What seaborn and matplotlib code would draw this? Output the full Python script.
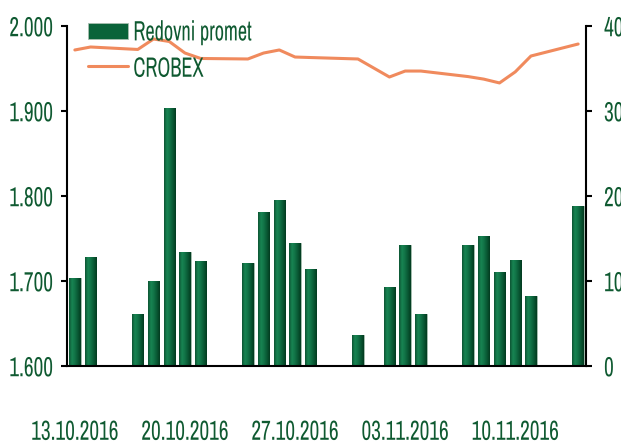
import numpy as np
import pandas as pd
import matplotlib
matplotlib.use("Agg")
import matplotlib.pyplot as plt
import seaborn as sns
from matplotlib.colors import LinearSegmentedColormap
from matplotlib.patches import Patch
from matplotlib.lines import Line2D
from matplotlib.patheffects import AbstractPathEffect
from matplotlib.transforms import Affine2D

# ---- data ----
dates = ["13.10.2016", "14.10.2016", "17.10.2016", "18.10.2016", "19.10.2016",
         "20.10.2016", "21.10.2016", "24.10.2016", "25.10.2016", "26.10.2016",
         "27.10.2016", "28.10.2016", "31.10.2016", "02.11.2016", "03.11.2016",
         "04.11.2016", "07.11.2016", "08.11.2016", "09.11.2016", "10.11.2016",
         "11.11.2016", "14.11.2016"]
redovni_promet = [10.3, 12.8, 6.1, 10.0, 30.4, 13.4, 12.4, 12.1, 18.1, 19.5,
                  14.5, 11.4, 3.6, 9.3, 14.2, 6.1, 14.2, 15.3, 11.1, 12.5,
                  8.2, 18.8]
crobex = [1971.8, 1975.3, 1972.4, 1984.7, 1981.8, 1968.2, 1961.8, 1961.2,
          1968.2, 1971.8, 1963.5, 1962.9, 1961.2, 1940.0, 1947.0, 1947.0,
          1940.5, 1937.5, 1933.0, 1946.0, 1964.7, 1978.8]
tick_dates = ["13.10.2016", "20.10.2016", "27.10.2016", "03.11.2016", "10.11.2016"]
left_ticks = [1600, 1700, 1800, 1900, 2000]
left_labels = ["1.600", "1.700", "1.800", "1.900", "2.000"]
right_ticks = [0, 10, 20, 30, 40]
right_labels = ["0", "10", "20", "30", "40"]

GREEN_TXT = "#0f5a31"
GREEN_BAR = "#0a6339"
ORANGE = "#f08a5d"

sns.set_theme(style="white")
plt.rcParams["font.family"] = ["Archivo Narrow", "Roboto Condensed", "DejaVu Sans"]
FS_TICK = 15.3
FS_LEG = 14.6


class VStretch(AbstractPathEffect):
    """Render text glyphs taller (narrow, tall look of the original font)."""
    def __init__(self, k=1.3, c=35.0):
        super().__init__()
        self.k, self.c = k, c

    def draw_path(self, renderer, gc, tpath, affine, rgbFace=None):
        t = Affine2D().translate(0, -self.c).scale(1, self.k).translate(0, self.c) + affine
        renderer.draw_path(gc, tpath, t, rgbFace)


start = pd.to_datetime(dates[0], format="%d.%m.%Y")
dt = pd.to_datetime(dates, format="%d.%m.%Y")
xpos = (dt - start).days.values + 0.5
df = pd.DataFrame({"x": xpos, "promet": redovni_promet, "crobex": crobex})
tick_x = (pd.to_datetime(tick_dates, format="%d.%m.%Y") - start).days.values
xmax = (dt[-1] - start).days + 1

fig = plt.figure(figsize=(6.21, 4.41), dpi=100)
ax = fig.add_axes([67/621, 1-366/441, (586-67)/621, (366-26)/441])
ax2 = ax.twinx()

# bars on right axis
sns.barplot(data=df, x="x", y="promet", native_scale=True, width=0.72,
            color=GREEN_BAR, saturation=1, errorbar=None, ax=ax2,
            edgecolor="#a9bfb0", linewidth=0.6)

cmap = LinearSegmentedColormap.from_list(
    "bar", ["#0d5433", "#188553", "#117246", "#095834", "#023a1f"])
grad = np.linspace(0, 1, 64).reshape(1, -1)
for p in list(ax2.patches):
    x0, y0 = p.get_x(), p.get_y()
    w, h = p.get_width(), p.get_height()
    im = ax2.imshow(grad, extent=(x0, x0 + w, y0, y0 + h), aspect="auto",
                    cmap=cmap, zorder=p.get_zorder() + 0.1, origin="lower")
    im.set_clip_path(p)

# line on left axis
sns.lineplot(data=df, x="x", y="crobex", sort=False, color=ORANGE,
             linewidth=2.2, ax=ax)

ax.set_zorder(ax2.get_zorder() + 1)
ax.patch.set_visible(False)

ax.set_xlim(0, xmax)
ax2.set_xlim(0, xmax)
ax.set_ylim(1600, 2000)
ax2.set_ylim(0, 40)

ax.set_yticks(left_ticks)
ax.set_yticklabels(left_labels)
ax2.set_yticks(right_ticks)
ax2.set_yticklabels(right_labels)

ax.set_xticks(tick_x)
ax.set_xticklabels([])
ax.set_xticks(tick_x + 0.5, minor=True)
ax.set_xticklabels(tick_dates, minor=True)
ax2.set_xticks([])

ax.set_xlabel("")
ax.set_ylabel("")
ax2.set_xlabel("")
ax2.set_ylabel("")

for s in ["top", "right"]:
    ax.spines[s].set_visible(False)
for s in ["top", "left", "bottom"]:
    ax2.spines[s].set_visible(False)
for s in ["left", "bottom"]:
    ax.spines[s].set_color("black")
    ax.spines[s].set_linewidth(1.5)
ax2.spines["right"].set_color("black")
ax2.spines["right"].set_linewidth(1.5)

ax.tick_params(axis="y", which="major", direction="out", length=4, width=1.5,
               color="black", pad=6, labelsize=FS_TICK, labelcolor=GREEN_TXT, left=True)
ax.tick_params(axis="x", which="major", direction="out", length=6.5, width=1.5,
               color="black", bottom=True)
ax.tick_params(axis="x", which="minor", length=0, pad=40, labelsize=FS_TICK,
               labelcolor=GREEN_TXT, bottom=True)
ax2.tick_params(axis="y", which="major", direction="out", length=4, width=1.5,
                color="black", pad=9, labelsize=FS_TICK, labelcolor=GREEN_TXT, right=True)

stretch = [VStretch(1.3)]
for lab in (ax.get_yticklabels() + ax2.get_yticklabels()
            + ax.get_xticklabels(minor=True)):
    lab.set_path_effects(stretch)

handles = [Patch(facecolor=GREEN_BAR, edgecolor="#a9bfb0", linewidth=0.6),
           Line2D([0], [0], color=ORANGE, linewidth=2.2)]
leg = ax.legend(handles, ["Redovni promet", "CROBEX"], loc="upper left",
                bbox_to_anchor=(0.04, 1.01), frameon=False, fontsize=FS_LEG,
                handlelength=2.0, handleheight=0.85, handletextpad=0.25,
                labelspacing=0.85, borderpad=0, borderaxespad=0)
for t in leg.get_texts():
    t.set_color(GREEN_TXT)
    t.set_path_effects([VStretch(1.38)])

fig.savefig("out.png", dpi=100)
